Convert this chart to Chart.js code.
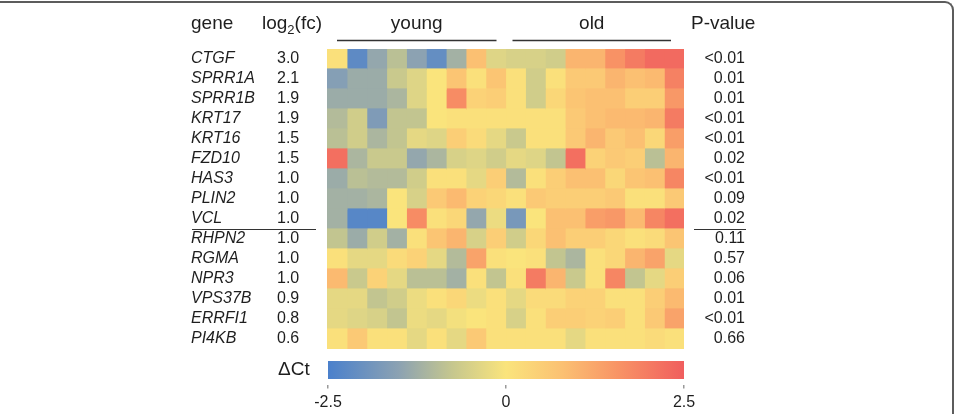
<!DOCTYPE html>
<html>
<head>
<meta charset="utf-8">
<script src="https://cdn.jsdelivr.net/npm/chart.js@4.4.1/dist/chart.umd.min.js"></script>
<style>
  html, body { margin: 0; padding: 0; background: #fff; overflow: hidden; }
  #wrap { position: relative; width: 955px; height: 414px; }
  #frame { position: absolute; left: -6px; top: 1px; width: 960px; height: 440px; box-sizing: border-box;
           border-top: 2px solid #5c5c5c; border-right: 2px solid #5c5c5c; border-top-right-radius: 9px; }
  #heat { position: absolute; left: 0; top: 0; }
  #ramp { position: absolute; left: 0; top: 344px; }
</style>
</head>
<body>
<div id="wrap">
  <div id="frame"></div>
  <canvas id="heat" width="955" height="414"></canvas>
  <canvas id="ramp" width="955" height="70"></canvas>
</div>
<script>
(function(){
    "use strict";

    // ---- data ----
    var genes = ["CTGF", "SPRR1A", "SPRR1B", "KRT17", "KRT16", "FZD10", "HAS3", "PLIN2", "VCL",
                 "RHPN2", "RGMA", "NPR3", "VPS37B", "ERRFI1", "PI4KB"];
    var log2fc = ["3.0", "2.1", "1.9", "1.9", "1.5", "1.5", "1.0", "1.0", "1.0",
                  "1.0", "1.0", "1.0", "0.9", "0.8", "0.6"];
    var pValues = ["<0.01", "0.01", "0.01", "<0.01", "<0.01", "0.02", "<0.01", "0.09", "0.02",
                   "0.11", "0.57", "0.06", "0.01", "<0.01", "0.66"];
    var groups = ["young", "old"];
    var samples = ["Y1", "Y2", "Y3", "Y4", "Y5", "Y6", "Y7", "Y8", "Y9",
                   "O1", "O2", "O3", "O4", "O5", "O6", "O7", "O8", "O9"];
    var splitAfter = "VCL";
    var scaleTicks = [-2.5, 0, 2.5];
    // delta Ct per gene (rows) and sample (columns)
    var deltaCt = [
        [ 0.1, -2.2, -1.4, -0.9, -1.5, -2.1, -1.2,  0.8, -0.4, -0.5, -0.5, -0.6,  1.0,  1.0,  1.6,  2.0,  2.3,  2.3],
        [-1.6, -1.3, -1.3, -0.7, -0.4,  0.0,  0.7,  0.1,  0.7,  0.1, -0.6,  0.1,  0.6,  0.6,  1.0,  0.8,  0.9,  1.9],
        [-1.3, -1.3, -1.3, -1.1, -0.4,  0.0,  1.7,  0.4,  0.5,  0.1, -0.6,  0.3,  0.7,  0.8,  0.8,  0.5,  0.5,  1.5],
        [-1.0, -0.6, -1.7, -0.8, -0.8,  0.0,  0.1,  0.1,  0.1,  0.1,  0.1,  0.1,  0.6,  0.8,  0.9,  0.9,  1.0,  2.0],
        [-0.9, -0.6, -1.1, -0.8, -0.3, -0.4,  0.5,  0.2, -0.3, -0.7,  0.1,  0.1,  0.6,  1.0,  0.6,  0.8,  0.3,  1.4],
        [ 2.2, -1.1, -0.7, -0.7, -1.4, -1.1, -0.5, -0.4, -0.6, -0.3, -0.4, -0.8,  2.2,  0.4,  0.6,  0.5, -0.9,  1.0],
        [-1.3, -0.9, -1.0, -1.0, -0.6,  0.1,  0.1, -0.3,  0.5, -1.0,  0.1,  0.5,  0.8,  0.8,  0.3,  0.7,  0.8,  1.8],
        [-1.2, -1.2, -1.1,  0.0, -0.5,  0.6,  0.9,  0.4,  0.3,  0.1,  0.6,  0.5,  0.5,  0.5,  0.6,  0.1,  0.1,  0.6],
        [-1.2, -2.3, -2.3,  0.0,  1.7,  0.1,  0.3, -1.4, -0.2, -1.8,  0.0,  0.8,  0.8,  1.4,  1.5,  0.9,  1.8,  2.2],
        [-0.8, -1.3, -0.6, -1.2,  0.1,  0.7,  1.0, -0.5,  0.5, -0.6,  0.3,  0.8,  0.5,  0.5,  0.3,  0.1,  0.2,  0.7],
        [ 0.1, -0.3, -0.3,  0.2,  0.4, -0.3, -1.0,  1.3,  0.1,  0.0,  0.1, -0.8, -1.1,  0.1,  0.3,  1.0,  1.3, -0.3],
        [ 0.9, -0.7,  0.4, -0.3, -0.9, -0.9, -1.2,  0.1, -0.8,  0.1,  2.0,  1.0, -0.7,  0.1,  1.8, -0.8, -0.3,  0.5],
        [-0.3, -0.3, -0.8, -0.6, -0.2,  0.1,  0.3, -0.2,  0.1, -0.3,  0.2,  0.2,  0.4,  0.4,  0.1,  0.1,  0.5,  0.9],
        [-0.3, -0.4, -0.5, -0.8, -0.2, -0.3, -0.1,  0.0,  0.1, -0.5,  0.1,  0.5,  0.5,  0.4,  0.5,  0.1,  0.6,  1.3],
        [ 0.1,  0.6,  0.1,  0.1, -0.3,  0.1, -0.3,  0.6,  0.1,  0.1,  0.1,  0.1, -0.3,  0.1,  0.1,  0.1,  0.2,  0.1]
    ];

    // ---- colour ramp ----
    var FONT = "'Liberation Sans', Arial, sans-serif";
    var INK = "#1e1e1e";
    var stops = [
        [-2.5, [74, 128, 204]],
        [-1.5, [140, 162, 178]],
        [-0.75, [198, 199, 142]],
        [0, [250, 228, 124]],
        [0.8, [251, 192, 114]],
        [1.6, [248, 146, 101]],
        [2.5, [240, 94, 94]]
    ];
    function rgb(c) { return "rgb(" + c.map(Math.round).join(",") + ")"; }
    function cellColor(v) {
        if (v <= stops[0][0]) return rgb(stops[0][1]);
        for (var i = 1; i < stops.length; i++) {
            if (v <= stops[i][0]) {
                var a = stops[i - 1], b = stops[i];
                var t = (v - a[0]) / (b[0] - a[0]);
                return rgb(a[1].map(function (x, k) { return x + (b[1][k] - x) * t; }));
            }
        }
        return rgb(stops[stops.length - 1][1]);
    }

    Chart.defaults.font.family = FONT;
    Chart.defaults.color = INK;

    var noGrid = { display: false, drawTicks: false };
    var noBorder = { display: false };
    var HEAD = "19px " + FONT;

    var datasets = samples.map(function (s, c) {
        return {
            label: s,
            data: genes.map(function () { return [c, c + 1]; }),
            backgroundColor: genes.map(function (g, r) { return cellColor(deltaCt[r][c]); }),
            borderWidth: 0,
            inflateAmount: 0.6,
            barPercentage: 1,
            categoryPercentage: 1,
            grouped: false,
            xAxisID: "x",
            yAxisID: "y"
        };
    });

    var headerPlugin = {
        id: "headers",
        afterDraw: function (chart) {
            var ctx = chart.ctx;
            var x = chart.scales.x, y = chart.scales.y, yFc = chart.scales.yFc, yP = chart.scales.yP;
            ctx.save();
            ctx.fillStyle = INK;
            ctx.strokeStyle = "#333";
            ctx.textBaseline = "alphabetic";
            ctx.font = HEAD;
            ctx.textAlign = "left";
            ctx.fillText("gene", y.left, 29);

            // log2(fc) with subscript
            var lx = yFc.left - 15;
            ctx.fillText("log", lx, 29);
            lx += ctx.measureText("log").width;
            ctx.font = "13px " + FONT;
            ctx.fillText("2", lx, 34);
            lx += ctx.measureText("2").width;
            ctx.font = HEAD;
            ctx.fillText("(fc)", lx, 29);

            ctx.fillText("P-value", yP.left + 7, 29);

            // group labels and lines
            var per = samples.length / groups.length;
            var insets = [[10, -9], [7, -13]];
            ctx.lineWidth = 1.3;
            ctx.textAlign = "center";
            groups.forEach(function (g, i) {
                var a = x.getPixelForValue(i * per) + insets[i][0];
                var b = x.getPixelForValue((i + 1) * per) + insets[i][1];
                ctx.beginPath();
                ctx.moveTo(a, 40.5);
                ctx.lineTo(b, 40.5);
                ctx.stroke();
                ctx.fillText(g, (a + b) / 2, 29);
            });

            // separator after split gene
            var k = genes.indexOf(splitAfter);
            var sy = Math.round((y.getPixelForTick(k) + y.getPixelForTick(k + 1)) / 2) + 0.5;
            ctx.lineWidth = 1.2;
            ctx.beginPath();
            ctx.moveTo(y.left + 1, sy);
            ctx.lineTo(x.left - 11, sy);
            ctx.moveTo(yP.left + 10, sy);
            ctx.lineTo(yP.right + 1, sy);
            ctx.stroke();
            ctx.restore();
        }
    };

    new Chart(document.getElementById("heat"), {
        type: "bar",
        data: { labels: genes, datasets: datasets },
        plugins: [headerPlugin],
        options: {
            indexAxis: "y",
            responsive: false,
            animation: false,
            layout: { padding: { left: 191, right: 210, top: 49, bottom: 65 } },
            plugins: { legend: { display: false }, tooltip: { enabled: false } },
            scales: {
                x: { type: "linear", min: 0, max: samples.length, display: false },
                y: {
                    type: "category", labels: genes, position: "left", weight: 2, offset: true,
                    grid: noGrid, border: noBorder,
                    ticks: { crossAlign: "far", autoSkip: false, padding: 0,
                             font: { size: 16, style: "italic" } },
                    afterFit: function (s) { s.width = 86; }
                },
                yFc: {
                    type: "category", labels: log2fc, position: "left", weight: 1, offset: true,
                    grid: noGrid, border: noBorder,
                    ticks: { crossAlign: "far", autoSkip: false, padding: 0, font: { size: 16 } },
                    afterFit: function (s) { s.width = 50; }
                },
                yP: {
                    type: "category", labels: pValues, position: "right", offset: true,
                    grid: noGrid, border: noBorder,
                    ticks: { crossAlign: "far", autoSkip: false, padding: 0, font: { size: 16 } },
                    afterFit: function (s) { s.width = 61; }
                }
            }
        }
    });

    // ---- colour key ----
    var lo = scaleTicks[0], hi = scaleTicks[scaleTicks.length - 1];
    new Chart(document.getElementById("ramp"), {
        type: "bar",
        data: {
            labels: ["\u0394Ct"],
            datasets: [{
                data: [[lo, hi]],
                borderWidth: 0,
                barPercentage: 0.613,
                categoryPercentage: 1,
                backgroundColor: function (c) {
                    var chart = c.chart;
                    if (!chart.chartArea || !chart.scales.x) return cellColor(0);
                    var xs = chart.scales.x;
                    var g = chart.ctx.createLinearGradient(xs.getPixelForValue(lo), 0, xs.getPixelForValue(hi), 0);
                    stops.forEach(function (s) { g.addColorStop((s[0] - lo) / (hi - lo), rgb(s[1])); });
                    return g;
                }
            }]
        },
        options: {
            indexAxis: "y",
            responsive: false,
            animation: false,
            layout: { padding: { left: 278, right: 271, top: 11.2, bottom: 0 } },
            plugins: { legend: { display: false }, tooltip: { enabled: false } },
            scales: {
                x: {
                    type: "linear", min: lo, max: hi,
                    afterBuildTicks: function (s) { s.ticks = scaleTicks.map(function (v) { return { value: v }; }); },
                    grid: { drawOnChartArea: false, drawTicks: true, tickLength: 4, color: "#9a9a9a", lineWidth: 1.5 },
                    border: noBorder,
                    ticks: { padding: 4.8, font: { size: 16 }, color: INK }
                },
                y: {
                    type: "category", position: "left", offset: true,
                    grid: noGrid, border: noBorder,
                    ticks: { crossAlign: "far", padding: 0, font: { size: 19 } },
                    afterFit: function (s) { s.width = 50; }
                }
            }
        }
    });
})();
</script>
</body>
</html>
